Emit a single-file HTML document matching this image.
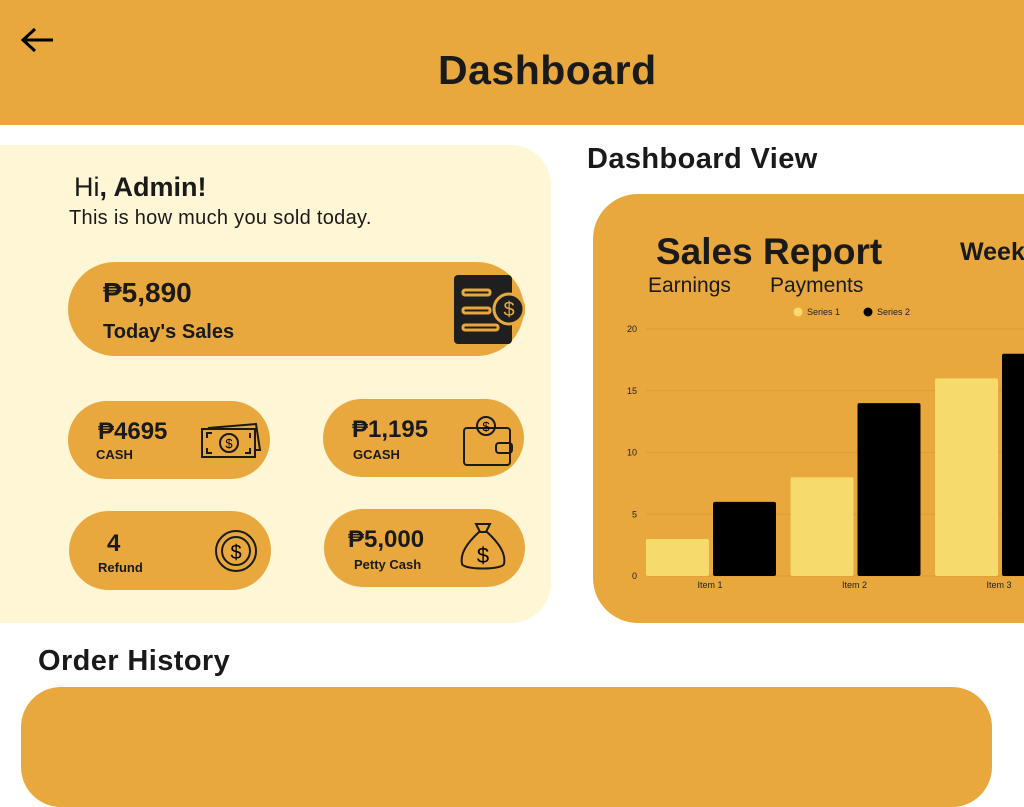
<!DOCTYPE html>
<html><head><meta charset="utf-8"><style>
*{margin:0;padding:0;box-sizing:border-box}
body{width:1024px;height:768px;overflow:hidden;background:#fff;font-family:"Liberation Sans",sans-serif;color:#1a1a1a;position:relative}
.abs{position:absolute}
.pill{position:absolute;background:#E8A83E;border-radius:40px}
.b{font-weight:bold}
</style></head><body>
<div class="abs" style="left:0;top:0;width:1024px;height:125px;background:#E8A83E"></div>
<svg class="abs" style="left:20px;top:26px" width="36" height="28" viewBox="0 0 36 28"><path d="M33 14H4M15 3L3 14l12 11" stroke="#000" stroke-width="3" fill="none"/></svg>
<div class="abs b" style="left:438px;top:47px;font-size:41px;letter-spacing:0.5px">Dashboard</div>

<div class="abs" style="left:-40px;top:145px;width:591px;height:478px;background:#FFF6D6;border-radius:40px"></div>
<div class="abs" style="left:74px;top:172px;font-size:27px">Hi<b>, Admin!</b></div>
<div class="abs" style="left:69px;top:207px;font-size:20px;letter-spacing:0.3px">This is how much you sold today.</div>

<div class="pill" style="left:68px;top:262px;width:456px;height:94px;border-radius:47px"></div>
<div class="abs b" style="left:103px;top:277px;font-size:28px">₱5,890</div>
<div class="abs b" style="left:103px;top:321px;font-size:20px">Today's Sales</div>
<svg class="abs" style="left:453px;top:274px" width="72" height="72"><rect x="1" y="1" width="58" height="69" rx="4" fill="#1f1f1f"/><g stroke="#E8A83E" stroke-width="3" fill="none"><rect x="10" y="16" width="27" height="5" rx="2"/><rect x="10" y="34" width="27" height="5" rx="2"/><rect x="10" y="51" width="35" height="5" rx="2"/></g><circle cx="56" cy="35" r="15" fill="#1f1f1f" stroke="#E8A83E" stroke-width="3"/><text x="56" y="42" font-size="20" text-anchor="middle" fill="#E8A83E" font-family="Liberation Sans">$</text></svg>

<div class="pill" style="left:68px;top:401px;width:202px;height:78px"></div>
<div class="abs b" style="left:98px;top:418px;font-size:24px">₱4695</div>
<div class="abs b" style="left:96px;top:447px;font-size:13px">CASH</div>
<svg class="abs" style="left:200px;top:422px" width="62" height="40"><g stroke="#1a1a1a" stroke-width="2" fill="none"><path d="M8 6l48-4 4 26-4 0"/><rect x="2" y="7" width="53" height="28"/><circle cx="29" cy="21" r="9"/><path d="M7 16v-5h5M50 11h0v5M7 26v5h5M50 26v5h-5"/></g><text x="29" y="26" font-size="13" text-anchor="middle" font-family="Liberation Sans">$</text></svg>

<div class="pill" style="left:323px;top:399px;width:201px;height:78px"></div>
<div class="abs b" style="left:352px;top:416px;font-size:24px">₱1,195</div>
<div class="abs b" style="left:353px;top:447px;font-size:13px">GCASH</div>
<svg class="abs" style="left:462px;top:414px" width="54" height="54"><g stroke="#1a1a1a" stroke-width="2" fill="none"><rect x="2" y="14" width="46" height="37" rx="3"/><rect x="34" y="29" width="16" height="10" rx="3"/><circle cx="24" cy="12" r="9"/></g><text x="24" y="17" font-size="13" text-anchor="middle" font-family="Liberation Sans">$</text></svg>

<div class="pill" style="left:69px;top:511px;width:202px;height:79px"></div>
<div class="abs b" style="left:107px;top:530px;font-size:24px">4</div>
<div class="abs b" style="left:98px;top:560px;font-size:13px">Refund</div>
<svg class="abs" style="left:214px;top:528px" width="50" height="46"><g stroke="#1a1a1a" stroke-width="2" fill="none"><circle cx="22" cy="23" r="20"/><circle cx="22" cy="23" r="14"/></g><text x="22" y="31" font-size="20" text-anchor="middle" font-family="Liberation Sans">$</text></svg>

<div class="pill" style="left:324px;top:509px;width:201px;height:78px"></div>
<div class="abs b" style="left:348px;top:526px;font-size:24px">₱5,000</div>
<div class="abs b" style="left:354px;top:557px;font-size:13px">Petty Cash</div>
<svg class="abs" style="left:458px;top:516px" width="50" height="58"><path d="M18 8h14l-4 8h-6zM21 16C8 28 2 38 4 48c2 6 40 6 42 0 2-10-4-20-17-32" stroke="#1a1a1a" stroke-width="2" fill="none"/><text x="25" y="47" font-size="22" text-anchor="middle" font-family="Liberation Sans">$</text></svg>

<div class="abs b" style="left:587px;top:143px;font-size:29px;letter-spacing:0.4px">Dashboard View</div>
<div class="abs" style="left:593px;top:194px;width:480px;height:429px;background:#E8A83E;border-radius:45px"></div>
<div class="abs b" style="left:656px;top:231px;font-size:37px">Sales Report</div>
<div class="abs b" style="left:960px;top:238px;font-size:25px">Weekly</div>
<div class="abs" style="left:648px;top:274px;font-size:21px">Earnings</div>
<div class="abs" style="left:770px;top:274px;font-size:21px">Payments</div>
<svg id="chart" class="abs" style="left:593px;top:194px" width="431" height="420"></svg>

<div class="abs b" style="left:38px;top:645px;font-size:29px;letter-spacing:0.4px">Order History</div>
<div class="abs" style="left:21px;top:687px;width:971px;height:120px;background:#E8A83E;border-radius:40px"></div>

<script>
const categories=["Item 1","Item 2","Item 3"];
const series1=[3,8,16];
const series2=[6,14,18];
const yTicks=[0,5,10,15,20];
const seriesNames=["Series 1","Series 2"];
const svg=document.getElementById('chart');
const NS='http://www.w3.org/2000/svg';
const ox=593,oy=194;
const y=v=>576-oy-v*(247/20);
const gx=i=>646-ox+i*144.5;
function mk(t,a){const e=document.createElementNS(NS,t);for(const k in a)e.setAttribute(k,a[k]);svg.appendChild(e);return e;}
yTicks.forEach(t=>{
  const l=mk('line',{x1:53,x2:431,y1:y(t),y2:y(t),stroke:'#dc9c33','stroke-width':1});
  
  
  const tx=mk('text',{x:44,y:y(t)+3,'font-size':9,'text-anchor':'end','font-family':'Liberation Sans',fill:'#222'});
  tx.textContent=t;
  
  
});
categories.forEach((c,i)=>{
  const b1=mk('rect',{x:gx(i),y:y(series1[i]),width:63,height:y(0)-y(series1[i]),fill:'#F6DA6B',rx:2});
  
  
  const b2=mk('rect',{x:gx(i)+67,y:y(series2[i]),width:63,height:y(0)-y(series2[i]),fill:'#000',rx:2});
  
  
  const tx=mk('text',{x:gx(i)+64,y:y(0)+12,'font-size':9,'text-anchor':'middle','font-family':'Liberation Sans',fill:'#222'});
  tx.textContent=c;
  
  
});
const lc=['#F6DA6B','#000'],lx=[205,275];
seriesNames.forEach((n,i)=>{
  const d=mk('circle',{cx:lx[i],cy:118,r:4.5,fill:lc[i]});
  
  
  const t=mk('text',{x:lx[i]+9,y:121,'font-size':9,'font-family':'Liberation Sans',fill:'#222'});
  t.textContent=n;
  
  
});
</script>
</body></html>
